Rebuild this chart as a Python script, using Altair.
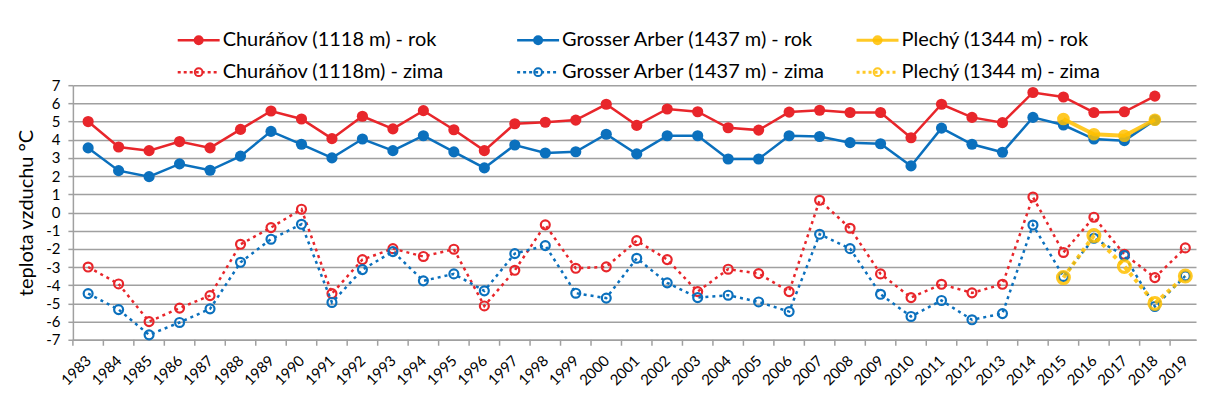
import altair as alt
import pandas as pd

FONT = "Lato"
GRID = "#a0a0a0"
RED = "#e8262b"
BLUE = "#0b70bd"
YEL = "#ffc000"

years = list(range(1983, 2020))
churanov_rok = [5.0, 3.6, 3.4, 3.9, 3.55, 4.57, 5.58, 5.14, 4.06, 5.29, 4.6,
                5.6, 4.55, 3.4, 4.88, 4.96, 5.08, 5.95, 4.79, 5.69, 5.54, 4.66, 4.53, 5.52,
                5.62, 5.5, 5.5, 4.11, 5.95, 5.23, 4.94, 6.6, 6.35, 5.5, 5.54, 6.4, None]
arber_rok = [3.55, 2.3, 1.97, 2.67, 2.32, 3.1, 4.46, 3.75, 3.0, 4.04, 3.4,
             4.22, 3.33, 2.45, 3.71, 3.27, 3.34, 4.3, 3.22, 4.22, 4.22, 2.94, 2.94, 4.22,
             4.18, 3.84, 3.78, 2.56, 4.64, 3.75, 3.31, 5.23, 4.81, 4.04, 3.95, 5.08, None]
churanov_zima = [-3.0, -3.93, -6.0, -5.26, -4.57, -1.75, -0.83, 0.18, -4.46, -2.59, -1.99,
                 -2.42, -2.02, -5.14, -3.18, -0.68, -3.07, -2.99, -1.55, -2.59, -4.35, -3.12, -3.36, -4.35,
                 0.67, -0.87, -3.38, -4.68, -3.95, -4.42, -3.95, 0.85, -2.2, -0.26, -2.3, -3.58, -1.95]
arber_zima = [-4.46, -5.34, -6.73, -6.05, -5.3, -2.74, -1.47, -0.65, -4.95, -3.14, -2.15,
              -3.76, -3.38, -4.31, -2.26, -1.82, -4.44, -4.71, -2.52, -3.87, -4.68, -4.55, -4.92, -5.45,
              -1.2, -1.99, -4.5, -5.72, -4.84, -5.9, -5.56, -0.69, -3.52, -1.42, -2.37, -5.17, -3.49]
plechy_years = [2015, 2016, 2017, 2018, 2019]
plechy_rok = [5.14, 4.3, 4.22, 5.1, None]
plechy_zima = [-3.58, -1.27, -2.97, -5.0, -3.49]

labels = ["Churáňov (1118 m) - rok", "Grosser Arber (1437 m) - rok", "Plechý (1344 m) - rok",
          "Churáňov (1118m) - zima", "Grosser Arber (1437 m) - zima", "Plechý (1344 m) - zima"]

series = [
    (years, churanov_rok, dict(color=RED, dash=None, filled=True, lw=2.5, size=125, sw=1, op=1)),
    (years, arber_rok, dict(color=BLUE, dash=None, filled=True, lw=2.5, size=125, sw=1, op=1)),
    (plechy_years, plechy_rok, dict(color=YEL, dash=None, filled=True, lw=4, size=160, sw=1, op=0.85)),
    (years, churanov_zima, dict(color=RED, dash=[3, 4], filled=False, lw=2.5, size=80, sw=2.2, op=1)),
    (years, arber_zima, dict(color=BLUE, dash=[3, 4], filled=False, lw=2.5, size=80, sw=2.2, op=1)),
    (plechy_years, plechy_zima, dict(color=YEL, dash=[4, 4], filled=False, lw=4, size=140, sw=3.2, op=0.85)),
]

W, H = 1125, 255

x_scale = alt.Scale(domain=[1982.5, 2019.35], nice=False, zero=False)
y_scale = alt.Scale(domain=[-7, 7], nice=False, zero=False)

x_axis = alt.Axis(values=years, grid=False, ticks=False, domainColor=GRID, domainWidth=1.5,
                  labelAngle=315, labelAlign="right", labelBaseline="middle", labelPadding=18,
                  labelFontSize=15, labelFont=FONT, labelColor="black", labelOverlap=False,
                  labelFlush=False, labelExpr="'' + datum.value", title=None)
y_axis = alt.Axis(values=list(range(-7, 8)), grid=True, gridColor=GRID, gridWidth=1.5,
                  domainColor=GRID, domainWidth=1.5, tickColor=GRID, tickWidth=1.5, tickSize=5,
                  labelPadding=8, labelFontSize=15, labelFont=FONT, labelColor="black",
                  labelExpr="'' + datum.value", title="teplota vzduchu °C", titleFontSize=20,
                  titleFont=FONT, titleFontWeight="normal", titleColor="black", titlePadding=9)


def X(field="year"):
    return alt.X(f"{field}:Q", scale=x_scale, axis=x_axis)


def Y():
    return alt.Y("value:Q", scale=y_scale, axis=y_axis)


layers = []
# category boundary ticks on the x axis
bounds_df = pd.DataFrame({"b": [y - 0.5 for y in years]})
layers.append(alt.Chart(bounds_df).mark_rule(color=GRID, strokeWidth=1.5).encode(
    x=X("b"), y=alt.value(H), y2=alt.value(H + 6)))

for yrs, vals, st in series:
    df = pd.DataFrame({"year": yrs, "value": vals}).dropna()
    base = alt.Chart(df).encode(x=X(), y=Y())
    lkw = dict(color=st["color"], strokeWidth=st["lw"], opacity=st["op"])
    if st["dash"]:
        lkw["strokeDash"] = st["dash"]
    layers.append(base.mark_line(**lkw))
    if st["filled"]:
        layers.append(base.mark_point(shape="circle", filled=True, color=st["color"],
                                      size=st["size"], opacity=st["op"]))
    else:
        layers.append(base.mark_point(shape="circle", filled=False, color=st["color"],
                                      size=st["size"], strokeWidth=st["sw"], opacity=st["op"]))

main = alt.layer(*layers)

# manual legend, placed above the plot area through its own pixel ranges
lx = alt.Scale(domain=[0, 2], range=[105, 785], nice=False, zero=False)
ly = alt.Scale(domain=[0, 1], range=[-45, -13], nice=False, zero=False)
leg_layers = []
for i, (lab, (_, _, st)) in enumerate(zip(labels, series)):
    d = pd.DataFrame({"col": [i % 3], "row": [i // 3], "label": [lab]})
    b = alt.Chart(d).encode(x=alt.X("col:Q", scale=lx, axis=None),
                            y=alt.Y("row:Q", scale=ly, axis=None))
    rkw = dict(color=st["color"], strokeWidth=min(st["lw"], 3), x2Offset=42, opacity=st["op"])
    if st["dash"]:
        rkw["strokeDash"] = [3, 3]
    leg_layers.append(b.mark_rule(**rkw).encode(x2="col:Q"))
    if st["filled"]:
        leg_layers.append(b.mark_point(shape="circle", filled=True, color=st["color"], size=100,
                                       xOffset=21, opacity=st["op"]))
    else:
        leg_layers.append(b.mark_point(shape="circle", filled=False, color=st["color"], size=60,
                                       strokeWidth=2, xOffset=21, opacity=st["op"]))
    leg_layers.append(b.mark_text(align="left", baseline="middle", dx=45, fontSize=20,
                                  font=FONT, color="black").encode(text="label:N"))

legend = alt.layer(*leg_layers)

chart = alt.layer(main, legend).resolve_scale(
    x="independent", y="independent"
).properties(
    width=W, height=H,
    padding={"left": 8, "top": 22, "right": 0, "bottom": 0}
).configure(font=FONT).configure_view(stroke=None)

chart.save("out.html", embed_options={"renderer": "svg", "actions": False})
